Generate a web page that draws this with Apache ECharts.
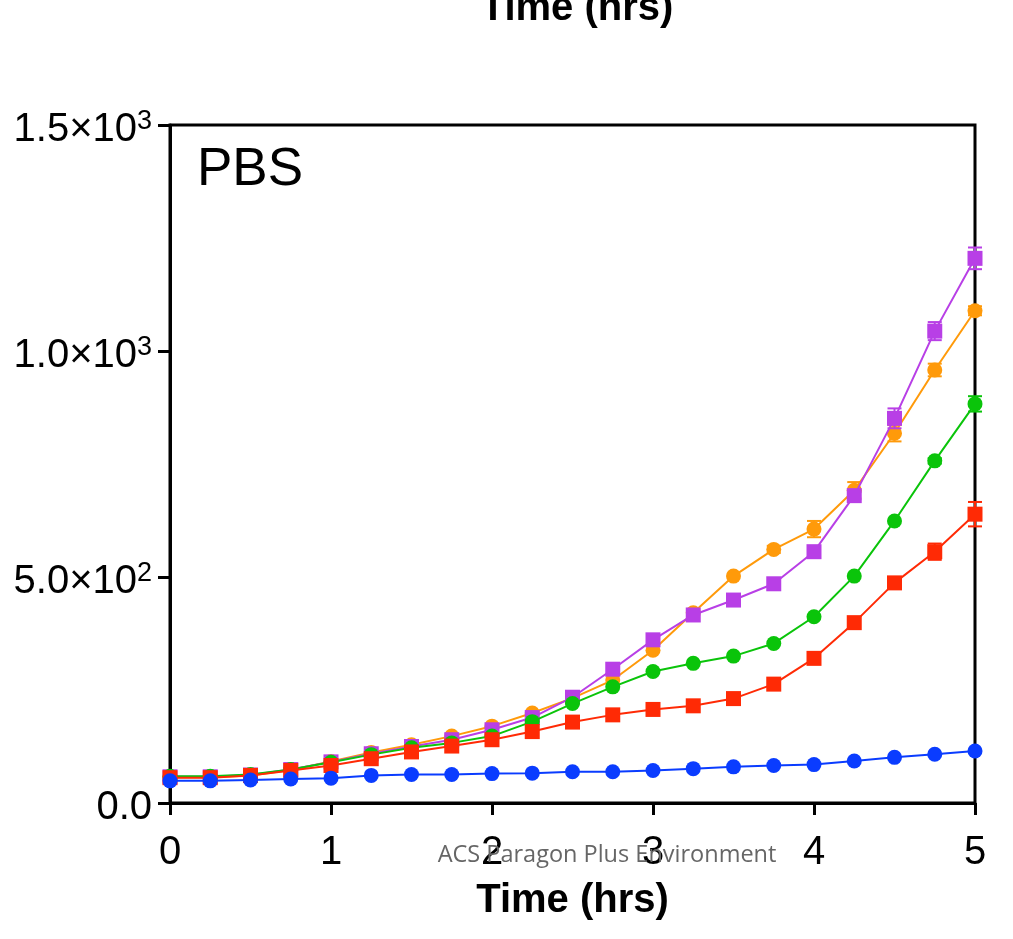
<!DOCTYPE html>
<html>
<head>
<meta charset="utf-8">
<script src="https://cdn.jsdelivr.net/npm/echarts@6/dist/echarts.min.js"></script>
<style>
html,body{margin:0;padding:0;background:#fff;}
#chart{width:1013px;height:939px;}
</style>
</head>
<body>
<div id="chart"></div>
<script>
// ---- data ----
const timeHrs = [0, 0.25, 0.5, 0.75, 1, 1.25, 1.5, 1.75, 2, 2.25, 2.5, 2.75, 3, 3.25, 3.5, 3.75, 4, 4.25, 4.5, 4.75, 5];
const orangeVals = [57, 57, 61, 73, 92, 112, 129, 148, 170, 199, 232, 272, 338, 421, 502, 561, 606, 692, 818, 958, 1089];
const orangeErr  = [0, 0, 0, 0, 0, 0, 0, 0, 0, 0, 0, 0, 0, 0, 0, 8, 18, 18, 18, 14, 10];
const purpleVals = [58, 58, 62, 74, 91, 109, 125, 140, 162, 189, 234, 296, 361, 416, 449, 485, 556, 680, 851, 1044, 1205];
const purpleErr  = [0, 0, 0, 0, 0, 0, 0, 0, 0, 0, 0, 0, 0, 0, 0, 0, 0, 8, 22, 20, 24];
const greenVals  = [59, 59, 63, 74, 90, 107, 122, 133, 148, 180, 220, 257, 291, 309, 325, 353, 412, 502, 624, 757, 883];
const greenErr   = [0, 0, 0, 0, 0, 0, 0, 0, 0, 0, 0, 0, 0, 0, 0, 0, 0, 0, 0, 6, 17];
const redVals    = [56, 56, 61, 72, 83, 98, 113, 126, 140, 158, 179, 195, 207, 215, 231, 263, 320, 399, 487, 556, 639];
const redErr     = [0, 0, 0, 0, 0, 0, 0, 0, 0, 0, 0, 0, 0, 0, 0, 0, 0, 0, 0, 18, 27];
const blueVals   = [49, 49, 51, 53, 55, 61, 63, 63, 65, 66, 69, 69, 72, 76, 80, 83, 85, 93, 101, 108, 115];
const blueErr    = [0, 0, 0, 0, 0, 0, 0, 0, 0, 0, 0, 0, 0, 0, 0, 0, 0, 0, 0, 0, 0];
const xTicks = ['0', '1', '2', '3', '4', '5'];
const yTickValues = [0, 500, 1000, 1500];
const yTickLabels = ['{m|0.0}', '{m|5.0×10}{s|2}', '{m|1.0×10}{s|3}', '{m|1.5×10}{s|3}'];
const panelLabel = 'PBS';
const axisTitle = 'Time (hrs)';
const watermark = 'ACS Paragon Plus Environment';

// ---- chart ----
const chart = echarts.init(document.getElementById('chart'), null, {renderer: 'canvas'});
const FONT = 'Liberation Sans, Arial, sans-serif';

const groups = [
  {name: 'orange', vals: orangeVals, err: orangeErr, color: '#ff9a0a', symbol: 'circle', z: 2},
  {name: 'purple', vals: purpleVals, err: purpleErr, color: '#b83fe6', symbol: 'rect', z: 3},
  {name: 'green',  vals: greenVals,  err: greenErr,  color: '#0ac40a', symbol: 'circle', z: 4},
  {name: 'red',    vals: redVals,    err: redErr,    color: '#ff2a05', symbol: 'rect', z: 5},
  {name: 'blue',   vals: blueVals,   err: blueErr,   color: '#0a3cff', symbol: 'circle', z: 6}
];

const series = [];
groups.forEach(g => {
  series.push({
    name: g.name + '_err',
    type: 'custom',
    z: g.z,
    silent: true,
    data: timeHrs.map((t, i) => [t, g.vals[i], g.err[i]]),
    renderItem: function (params, api) {
      const x = api.value(0), y = api.value(1), e = api.value(2);
      if (!e) return null;
      const top = api.coord([x, y + e]);
      const bot = api.coord([x, y - e]);
      const hw = 7;
      const st = {stroke: g.color, lineWidth: 2};
      return {
        type: 'group',
        children: [
          {type: 'line', shape: {x1: top[0], y1: top[1], x2: bot[0], y2: bot[1]}, style: st},
          {type: 'line', shape: {x1: top[0] - hw, y1: top[1], x2: top[0] + hw, y2: top[1]}, style: st},
          {type: 'line', shape: {x1: bot[0] - hw, y1: bot[1], x2: bot[0] + hw, y2: bot[1]}, style: st}
        ]
      };
    }
  });
  series.push({
    name: g.name,
    type: 'line',
    z: g.z,
    data: timeHrs.map((t, i) => [t, g.vals[i]]),
    symbol: g.symbol,
    symbolSize: 15,
    showAllSymbol: true,
    lineStyle: {color: g.color, width: 2},
    itemStyle: {color: g.color, borderWidth: 0},
    emphasis: {disabled: true},
    animation: false
  });
});

chart.setOption({
  animation: false,
  backgroundColor: '#fff',
  grid: {left: 170, right: 38, top: 125, bottom: 136, show: true, borderColor: '#000', borderWidth: 3},
  xAxis: {
    type: 'value', min: 0, max: 5, interval: 1,
    axisLine: {lineStyle: {color: '#000', width: 3}},
    axisTick: {show: true, length: 12, lineStyle: {color: '#000', width: 3}},
    splitLine: {show: false},
    axisLabel: {
      color: '#000', fontSize: 40, fontFamily: FONT, margin: 30,
      formatter: v => xTicks[Math.round(v)]
    },
    name: axisTitle, nameLocation: 'middle', nameGap: 78,
    nameTextStyle: {color: '#000', fontSize: 40, fontWeight: 'bold', fontFamily: FONT}
  },
  yAxis: {
    type: 'value', min: 0, max: 1500, interval: 500,
    axisLine: {lineStyle: {color: '#000', width: 3}},
    axisTick: {show: true, length: 12, lineStyle: {color: '#000', width: 3}},
    splitLine: {show: false},
    axisLabel: {
      color: '#000', fontFamily: FONT, margin: 18, padding: [8, 0, 0, 0],
      formatter: v => yTickLabels[yTickValues.indexOf(v)],
      rich: {
        m: {fontSize: 40, fontFamily: FONT, color: '#000', lineHeight: 42, verticalAlign: 'bottom'},
        s: {fontSize: 27, fontFamily: FONT, color: '#000', lineHeight: 42, verticalAlign: 'top', padding: [0, 0, 15, 0]}
      }
    }
  },
  graphic: [
    {type: 'text', left: 197, top: 144, z: 10, silent: true,
     style: {text: panelLabel, fontSize: 53, fontFamily: FONT, fill: '#000'}},
    {type: 'text', x: 577, y: 9, z: 10, silent: true,
     style: {text: axisTitle, fontSize: 40, fontWeight: 'bold', fontFamily: FONT, fill: '#000', align: 'center', verticalAlign: 'middle'}},
    {type: 'text', x: 607, y: 855, z: 20, silent: true,
     style: {text: watermark, fontSize: 23.5, fontFamily: 'Open Sans, Noto Sans, sans-serif', fill: '#666', align: 'center', verticalAlign: 'middle'}}
  ],
  series: series
});
</script>
</body>
</html>
